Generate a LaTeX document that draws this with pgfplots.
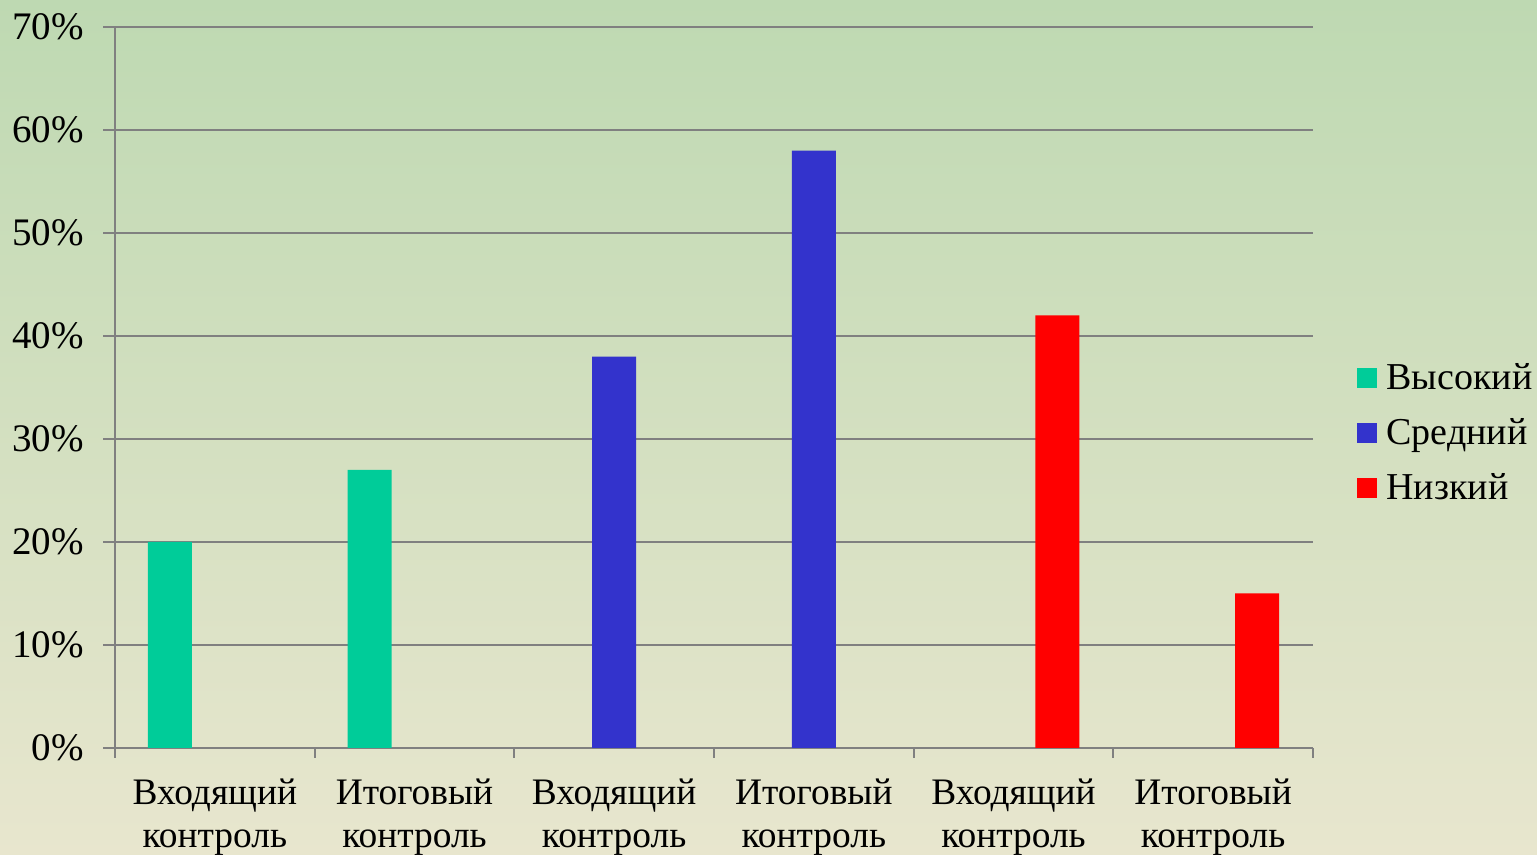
\documentclass[border=0pt]{standalone}
\usepackage{fontspec}
\setmainfont{Liberation Serif}
\usepackage{pgfplots}
\pgfplotsset{compat=1.18}

\definecolor{bgtop}{RGB}{190,217,178}
\definecolor{bgmid}{RGB}{213,225,192}
\definecolor{bgbot}{RGB}{232,230,206}
\definecolor{vys}{RGB}{0,204,153}
\definecolor{sred}{RGB}{51,51,204}
\definecolor{niz}{RGB}{255,0,0}
\definecolor{gridc}{RGB}{128,128,128}

\begin{document}
\begin{tikzpicture}
% background (1 px = 0.5 pt)
\shade[top color=bgtop, middle color=bgmid, bottom color=bgbot] (0,0) rectangle (768.5pt,427.5pt);

\begin{axis}[
  at={(57.5pt,53.5pt)}, anchor=south west,
  scale only axis, width=599pt, height=360.5pt,
  xmin=-0.5, xmax=5.5, ymin=0, ymax=70,
  axis lines*=left,
  axis line style={gridc, line width=0.9pt},
  ytick={0,10,...,70},
  yticklabel={\pgfmathprintnumber{\tick}\%},
  /pgf/number format/assume math mode=true,
  ymajorgrids, grid style={gridc, line width=0.9pt},
  ytick style={gridc, line width=0.9pt},
  tick align=outside,
  major tick length=6pt,
  xtick={0,...,5},
  xticklabels={Входящий\\контроль, Итоговый\\контроль, Входящий\\контроль, Итоговый\\контроль, Входящий\\контроль, Итоговый\\контроль},
  major x tick style={draw=none},
  minor xtick={-0.5,0.5,...,5.5},
  minor x tick style={gridc, line width=0.9pt},
  minor tick length=5pt,
  tick label style={text=black},
  xticklabel style={font=\fontsize{18.7}{21.5}\selectfont, align=center, yshift=-6pt},
  yticklabel style={font=\fontsize{19.5}{21.5}\selectfont, xshift=-6pt},
  bar width=0.22,
  legend style={at={(1.0318,0.437)}, anchor=west, draw=none, fill=none,
    font=\fontsize{19}{22}\selectfont, row sep=9pt,
    /tikz/every even column/.append style={column sep=0pt}},
  legend cell align=left,
  legend image code/.code={\fill[#1] (0pt,-5pt) rectangle (10pt,5pt); \path (12.5pt,0pt);},
]
\addplot[ybar, bar shift=-0.225, fill=vys, draw=none] coordinates {(0,20) (1,27)};
\addlegendentry{Высокий}
\addplot[ybar, bar shift=0, fill=sred, draw=none] coordinates {(2,38) (3,58)};
\addlegendentry{Средний}
\addplot[ybar, bar shift=0.22, fill=niz, draw=none] coordinates {(4,42) (5,15)};
\addlegendentry{Низкий}
\end{axis}

\pgfresetboundingbox
\useasboundingbox (0,0) rectangle (768.5pt,427.5pt);
\end{tikzpicture}
\end{document}
